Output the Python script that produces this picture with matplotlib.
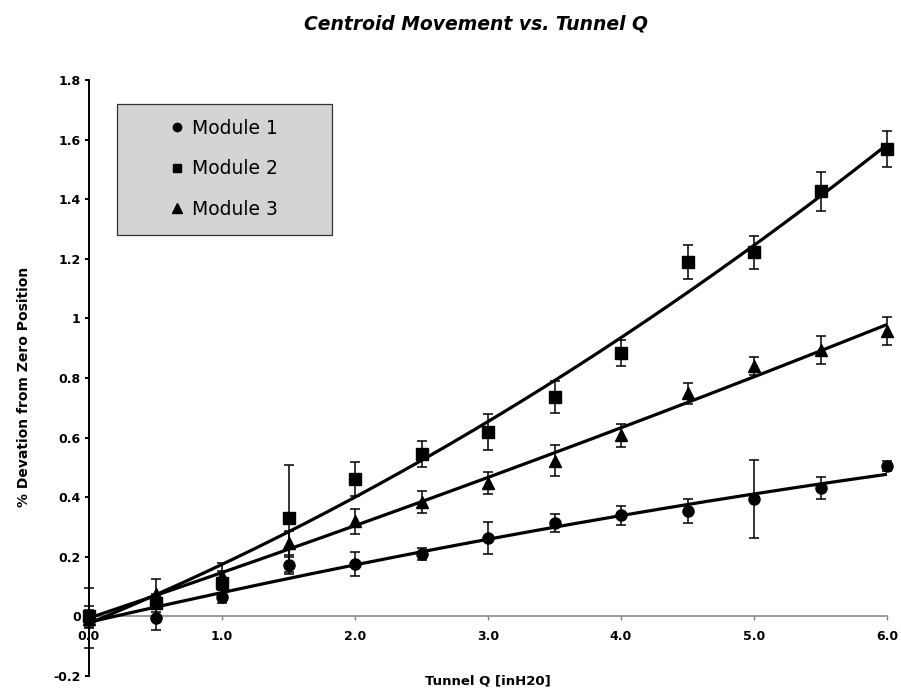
import numpy as np
import matplotlib
matplotlib.use("Agg")
import matplotlib.pyplot as plt
from matplotlib.lines import Line2D
from matplotlib.patches import Rectangle

# tunnel Q readings [inH20]
tunnel_q = [0.0, 0.5, 1.0, 1.5, 2.0, 2.5, 3.0, 3.5, 4.0, 4.5, 5.0, 5.5, 6.0]

# % deviation from zero position, per module, with error bar half-widths
mod1 = [-0.005, -0.005, 0.066, 0.171, 0.177, 0.209, 0.263, 0.314, 0.339, 0.354, 0.395, 0.431, 0.504]
mod1_err = [0.10, 0.04, 0.022, 0.03, 0.04, 0.02, 0.055, 0.03, 0.031, 0.04, 0.131, 0.037, 0.017]

mod2 = [0.0, 0.046, 0.113, 0.329, 0.461, 0.545, 0.619, 0.735, 0.884, 1.189, 1.222, 1.426, 1.568]
mod2_err = [0.035, 0.03, 0.04, 0.18, 0.056, 0.042, 0.061, 0.054, 0.045, 0.058, 0.056, 0.064, 0.06]

mod3 = [-0.01, 0.074, 0.135, 0.247, 0.32, 0.383, 0.448, 0.523, 0.608, 0.748, 0.839, 0.895, 0.957]
mod3_err = [0.03, 0.05, 0.045, 0.04, 0.042, 0.037, 0.037, 0.052, 0.038, 0.034, 0.03, 0.047, 0.047]

labels = ["Module 1", "Module 2", "Module 3"]
markers = ["o", "s", "^"]

x_ticks = [0, 1, 2, 3, 4, 5, 6]
x_ticklabels = ["0.0", "1.0", "2.0", "3.0", "4.0", "5.0", "6.0"]
y_ticks = [-0.2, 0, 0.2, 0.4, 0.6, 0.8, 1.0, 1.2, 1.4, 1.6, 1.8]
y_ticklabels = ["-0.2", "0", "0.2", "0.4", "0.6", "0.8", "1", "1.2", "1.4", "1.6", "1.8"]

W, H = 901, 696
fig = plt.figure(figsize=(W / 100, H / 100), dpi=100)
ax = fig.add_axes([89 / W, 1 - 676 / H, (887 - 89) / W, (676 - 80) / H])

x = np.array(tunnel_q)
xs = np.linspace(0, 6, 200)
for vals, errs, mk in zip([mod1, mod2, mod3], [mod1_err, mod2_err, mod3_err], markers):
    ms = 8.6 if mk == "^" else 8
    cont = ax.errorbar(x, vals, yerr=errs, fmt=mk, color="black", ms=ms,
                       elinewidth=1.1, capsize=3.3, capthick=1.1, zorder=3)
    for art in cont.get_children():
        art.set_clip_on(False)
    # trendline (2nd order, like the spreadsheet fit)
    coef = np.polyfit(x, vals, 2)
    ax.plot(xs, np.polyval(coef, xs), color="black", lw=2.3, zorder=4,
            solid_capstyle="butt", clip_on=False)

ax.set_xlim(0, 6)
ax.set_ylim(-0.2, 1.8)

for s in ["top", "right"]:
    ax.spines[s].set_visible(False)
ax.spines["left"].set_linewidth(1.4)
ax.spines["bottom"].set_position(("data", 0))
ax.spines["bottom"].set_color("#808080")
ax.spines["bottom"].set_linewidth(1.1)

ax.set_xticks(x_ticks)
ax.set_xticklabels(x_ticklabels, fontsize=9, fontweight="bold")
ax.set_yticks(y_ticks)
ax.set_yticklabels(y_ticklabels, fontsize=9, fontweight="bold")
ax.tick_params(axis="x", direction="out", length=3, width=1, color="#808080",
               labelcolor="black", pad=6.5)
ax.tick_params(axis="y", direction="out", length=3, width=1.4, pad=3)

# legend box
ax.add_patch(Rectangle((0.035, 0.740), 0.2695, 0.2197, transform=ax.transAxes,
                       facecolor="#D3D3D3", edgecolor="#333333", lw=0.9, zorder=1))
handles = [Line2D([], [], marker=m, color="black", linestyle="None",
                  markersize=6.5 if m == "^" else 6) for m in markers]
ax.legend(handles, labels, loc="center left", bbox_to_anchor=(0.1009, 0.8507),
          frameon=False, fontsize=13.5, handlelength=0.8, handletextpad=0.4,
          labelspacing=1.15, borderpad=0, borderaxespad=0)

fig.text(476 / W, 1 - 24 / H, "Centroid Movement vs. Tunnel Q", ha="center", va="center",
         fontsize=13.5, fontweight="bold", fontstyle="italic")
fig.text(488 / W, 1 - 681 / H, "Tunnel Q [inH20]", ha="center", va="center",
         fontsize=9.5, fontweight="bold")
fig.text(24 / W, 1 - 387 / H, "% Devation from Zero Position", ha="center", va="center",
         rotation=90, fontsize=10, fontweight="bold")

fig.savefig("out.png", dpi=100)
